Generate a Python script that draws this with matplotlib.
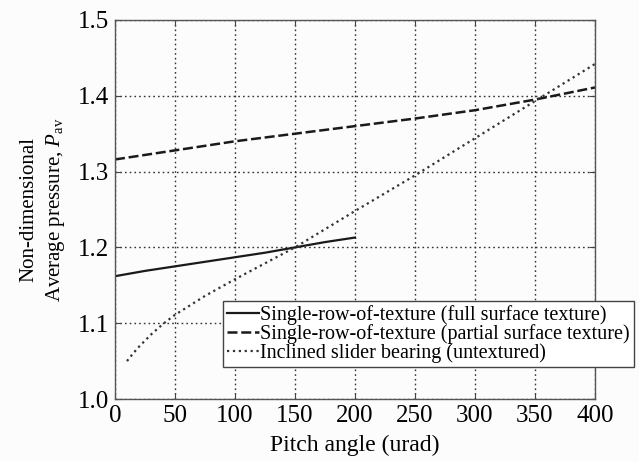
import numpy as np
import matplotlib
matplotlib.use("Agg")
import matplotlib.pyplot as plt

plt.rcParams['font.family'] = 'Liberation Serif'
plt.rcParams['mathtext.fontset'] = 'custom'
plt.rcParams['mathtext.rm'] = 'Liberation Serif'
plt.rcParams['mathtext.it'] = 'Liberation Serif:italic'

# ============================
# Data
# ============================
x_full = [0, 25, 50, 75, 100, 125, 150, 175, 200]
y_full = [1.162, 1.169, 1.175, 1.181, 1.187, 1.193, 1.200, 1.207, 1.213]

x_partial = [0, 25, 50, 75, 100, 150, 200, 250, 300, 350, 400]
y_partial = [1.316, 1.322, 1.328, 1.334, 1.340, 1.350, 1.360, 1.370, 1.381, 1.395, 1.411]

x_incl = [10, 15, 20, 25, 30, 40, 50, 75, 100, 150, 200, 250, 300, 350, 400]
y_incl = [1.050, 1.060, 1.069, 1.077, 1.085, 1.099, 1.111, 1.136, 1.158, 1.200, 1.248, 1.295, 1.344, 1.393, 1.442]

labels = ['Single-row-of-texture (full surface texture)',
          'Single-row-of-texture (partial surface texture)',
          'Inclined slider bearing (untextured)']

xticks = [0, 50, 100, 150, 200, 250, 300, 350, 400]
yticks = [1.0, 1.1, 1.2, 1.3, 1.4, 1.5]

# ============================
# Plot
# ============================
fig = plt.figure(figsize=(6.39, 4.61), dpi=100, facecolor='#fcfcfc')
ax = fig.add_axes([115 / 639, 1 - 399 / 461, 480 / 639, 379 / 461])
ax.set_facecolor('#fcfcfc')

ax.plot(x_full, y_full, '-', color='#1a1a1a', linewidth=1.6, label=labels[0])
ax.plot(x_partial, y_partial, '--', color='#1a1a1a', linewidth=1.8, dashes=(4, 1.5), label=labels[1])
ax.plot(x_incl, y_incl, ':', color='#333333', linewidth=1.6, label=labels[2])

ax.set_xlim(0, 400)
ax.set_ylim(1.0, 1.5)
ax.set_xticks(xticks)
ax.set_yticks(yticks)
ax.set_yticklabels([f'{v:.1f}' for v in yticks])
ax.tick_params(direction='in', top=True, right=True, labelsize=18, length=4, color='#444444', pad=4)
ax.grid(True, linestyle=(0, (1.2, 2.2)), color='#333333', linewidth=1.0)
for s in ax.spines.values():
    s.set_color('#555555')
    s.set_linewidth(1.0)

ax.set_xlabel('Pitch angle (urad)', fontsize=17, labelpad=6)
ax.set_ylabel('Non-dimensional\nAverage pressure, $P_{\\mathrm{av}}$', fontsize=15,
              linespacing=1.35)
ax.yaxis.set_label_coords(-0.10, 0.50)

leg = ax.legend(loc='upper left', bbox_to_anchor=(108 / 480, 1 - (301 - 20) / 379),
                fontsize=14.5, frameon=True, fancybox=False, handlelength=1.6,
                handletextpad=0.05, borderpad=0.2, labelspacing=-0.05, borderaxespad=0)
leg.get_frame().set_edgecolor('#444444')
leg.get_frame().set_linewidth(1.0)
leg.get_frame().set_facecolor('white')
leg.get_frame().set_alpha(1)

fig.savefig('out.png', dpi=100, facecolor=fig.get_facecolor())
